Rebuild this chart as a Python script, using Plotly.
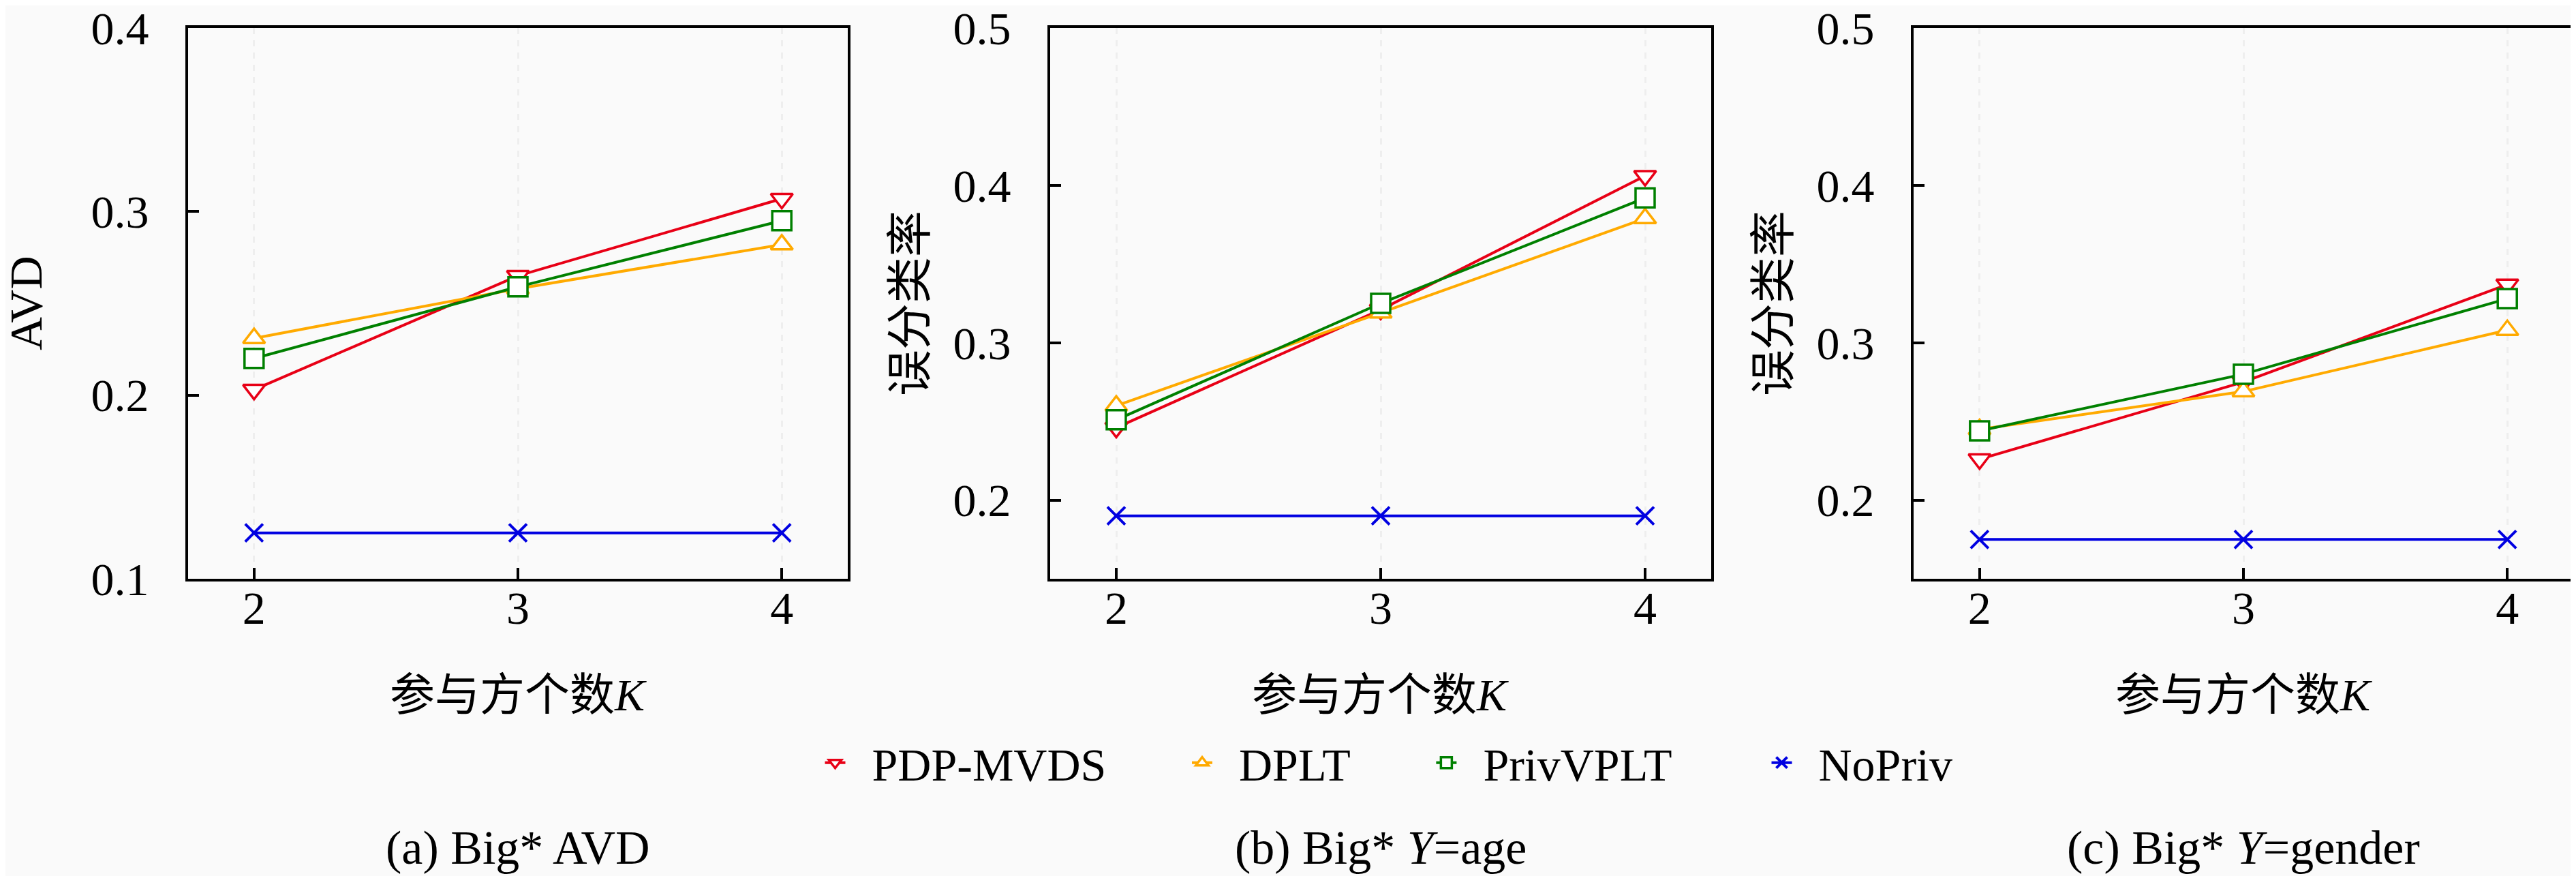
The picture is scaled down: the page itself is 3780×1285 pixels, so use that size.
import plotly.graph_objects as go
from plotly.subplots import make_subplots

# number of participants K
k_values = [2, 3, 4]
methods = ["PDP-MVDS", "DPLT", "PrivVPLT", "NoPriv"]

# (a) Big* AVD
avd_pdp = [0.203, 0.265, 0.307]
avd_dplt = [0.231, 0.258, 0.282]
avd_priv = [0.220, 0.259, 0.295]
avd_nopriv = [0.125, 0.125, 0.125]

# (b) Big* Y=age, misclassification rate
age_pdp = [0.246, 0.321, 0.406]
age_dplt = [0.260, 0.319, 0.379]
age_priv = [0.251, 0.325, 0.392]
age_nopriv = [0.190, 0.190, 0.190]

# (c) Big* Y=gender, misclassification rate
gender_pdp = [0.226, 0.275, 0.337]
gender_dplt = [0.245, 0.269, 0.308]
gender_priv = [0.244, 0.280, 0.328]
gender_nopriv = [0.175, 0.175, 0.175]

y_ticks_a = [0.1, 0.2, 0.3, 0.4]
y_ticks_bc = [0.2, 0.3, 0.4, 0.5]

panels = [
    [avd_pdp, avd_dplt, avd_priv, avd_nopriv],
    [age_pdp, age_dplt, age_priv, age_nopriv],
    [gender_pdp, gender_dplt, gender_priv, gender_nopriv],
]
y_titles = ["AVD", "误分类率", "误分类率"]
x_title = "参与方个数<i>K</i>"
captions = ["(a) Big* AVD", "(b) Big* <i>Y</i>=age", "(c) Big* <i>Y</i>=gender"]

W, H = 3780, 1285
BG = "#fafafa"
FONT = "Liberation Serif, Noto Sans CJK SC, serif"

colors = ["rgb(232,0,22)", "rgb(255,170,0)", "rgb(0,128,0)", "rgb(0,0,225)"]
symbols = ["triangle-down", "triangle-up", "square", "x-thin"]

# plot frames in pixels (left, right), all share top/bottom
frames = [(268, 1236), (1533, 2503), (2800, 3768)]
top, bottom = 33, 841

fig = make_subplots(rows=1, cols=3)

for p, series in enumerate(panels):
    for m, vals in enumerate(series):
        if symbols[m] == "x-thin":
            marker = dict(symbol="x-thin", size=26, line=dict(color=colors[m], width=4))
        else:
            marker = dict(symbol=symbols[m], size=28, color="white",
                          line=dict(color=colors[m], width=3.5))
        # pad legend names so text sits further from the symbol
        trail = ["\u2003\u2002\u2009", "\u2003\u2002\u2009", "\u2003\u2003", ""][m]
        name = "\u2002" + methods[m] + trail
        fig.add_trace(go.Scatter(
            x=k_values, y=vals, mode="lines+markers", name=name,
            line=dict(color=colors[m], width=4), marker=marker,
            legendgroup=methods[m], showlegend=(p == 0)),
            row=1, col=p + 1)

axis_common = dict(
    showline=True, linecolor="black", linewidth=4, mirror=True,
    ticks="inside", ticklen=16, tickwidth=4, tickcolor="black",
    zeroline=False, ticklabeloverflow="allow", automargin=False,
    tickfont=dict(size=68, color="black", family=FONT),
)

for p, (l, r) in enumerate(frames):
    sfx = "" if p == 0 else str(p + 1)
    fig.layout["xaxis" + sfx].update(
        domain=[l / W, r / W], range=[1.75, 4.25], tickvals=k_values,
        showgrid=True, gridcolor="rgb(238,238,238)", griddash="dash", gridwidth=3,
        ticklabelstandoff=-20, **axis_common)
    fig.layout["yaxis" + sfx].update(
        domain=[1 - bottom / H, 1 - top / H],
        range=[0.1, 0.4] if p == 0 else [0.15, 0.5],
        tickvals=y_ticks_a if p == 0 else y_ticks_bc, tickformat=".1f",
        showgrid=False, ticklabelstandoff=40, **axis_common)

annotations = []
ytitle_x = [30, 1328, 2595]
for p, (l, r) in enumerate(frames):
    cx = (l + r) / 2 / W
    annotations.append(dict(text=y_titles[p], x=ytitle_x[p] / W, y=1 - 437 / H,
                            textangle=-90, font=dict(size=68)))
    annotations.append(dict(text=x_title, x=cx, y=1 - 1011 / H, font=dict(size=66)))
    annotations.append(dict(text=captions[p], x=cx, y=1 - 1235 / H, font=dict(size=70)))
for a in annotations:
    a.update(xref="paper", yref="paper", xanchor="center", yanchor="middle",
             showarrow=False)

fig.update_layout(
    width=W, height=H,
    margin=dict(l=0, r=0, t=0, b=0, autoexpand=False),
    paper_bgcolor=BG, plot_bgcolor=BG,
    font=dict(family=FONT, color="black", size=66),
    annotations=annotations,
    legend=dict(orientation="h", x=2030 / W, xanchor="center", y=1 - 1111 / H,
                yanchor="middle", bgcolor="rgba(0,0,0,0)",
                font=dict(size=68, family=FONT)),
)

fig.write_html("out.html")
